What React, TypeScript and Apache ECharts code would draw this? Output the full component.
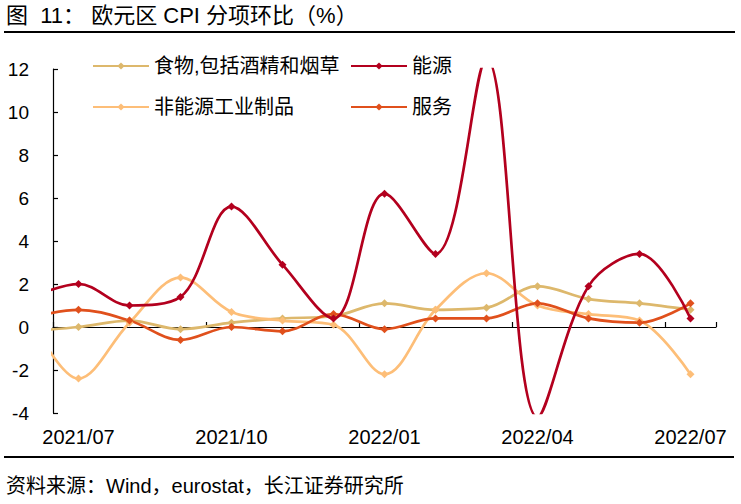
import React, { useEffect, useRef } from "react";
import * as echarts from "echarts";

// Index 0 (2021/06) lies just outside the visible range; the reference's lines enter from the left edge.
const months = [
  "2021/06", "2021/07", "2021/08", "2021/09", "2021/10", "2021/11", "2021/12",
  "2022/01", "2022/02", "2022/03", "2022/04", "2022/05", "2022/06", "2022/07",
];
const visibleMonths = months.slice(1);

const food = [-0.2, 0.0, 0.3, -0.1, 0.2, 0.4, 0.5, 1.1, 0.8, 0.9, 1.9, 1.3, 1.1, 0.8];
const energy = [1.3, 2.0, 1.0, 1.4, 5.6, 2.9, 0.4, 6.2, 3.4, 12.5, -4.2, 1.9, 3.4, 0.4];
const neig = [0.7, -2.4, 0.2, 2.3, 0.7, 0.3, 0.1, -2.2, 0.8, 2.5, 1.0, 0.6, 0.3, -2.2];
const services = [0.4, 0.8, 0.3, -0.6, 0.0, -0.2, 0.6, -0.1, 0.4, 0.4, 1.1, 0.4, 0.2, 1.1];

const seriesNames = ["食物,包括酒精和烟草", "能源", "非能源工业制品", "服务"];
const seriesColors = ["#DDB86C", "#B3001E", "#FDBE78", "#E0501C"];
const seriesValues = [food, energy, neig, services];

const yTicks = { min: -4, max: 12, interval: 2 };

const LATIN = "'Liberation Sans', Arial, 'Noto Sans CJK SC', sans-serif";

export default function App() {
  const ref = useRef<HTMLDivElement>(null);

  useEffect(() => {
    document.body.style.margin = "0";
    if (!ref.current) return;
    const chart = echarts.init(ref.current, undefined, { renderer: "svg" });

    const series = seriesNames.map((name, si) => ({
      name,
      type: "line",
      xAxisIndex: 0,
      yAxisIndex: 0,
      smooth: 0.35,
      clip: true,
      symbol: "diamond",
      symbolSize: 8,
      data: seriesValues[si].map((v, i) => [i, v]),
      lineStyle: { color: seriesColors[si], width: 2.7 },
      itemStyle: { color: seriesColors[si] },
      z: si === 1 ? 3 : 2,
    }));

    const legendCommon = {
      orient: "vertical",
      top: 56,
      padding: 0,
      itemWidth: 56,
      itemHeight: 9,
      itemGap: 21,
      textStyle: { fontSize: 20, color: "#000", lineHeight: 20, fontFamily: LATIN },
    };

    const option: any = {
      animation: false,
      textStyle: { fontFamily: LATIN },
      grid: { left: 53, right: 25, top: 69, bottom: 91, containLabel: false },
      legend: [
        { ...legendCommon, left: 92, data: [seriesNames[0], seriesNames[2]] },
        { ...legendCommon, left: 350, data: [seriesNames[1], seriesNames[3]] },
      ],
      xAxis: [
        {
          type: "value",
          min: 0.5,
          max: 13.5,
          show: false,
          position: "bottom",
          axisLine: { onZero: false },
        },
        {
          type: "category",
          data: visibleMonths,
          position: "bottom",
          boundaryGap: true,
          axisLine: { show: false, onZero: false },
          axisTick: { show: false },
          axisLabel: {
            interval: 2,
            fontSize: 20,
            color: "#000",
            margin: 14,
            fontFamily: LATIN,
          },
          splitLine: { show: false },
        },
        {
          type: "category",
          data: visibleMonths,
          position: "top",
          boundaryGap: true,
          axisLine: { show: true, onZero: true, lineStyle: { color: "#000", width: 1.2 } },
          axisTick: {
            show: true,
            interval: 2,
            inside: false,
            length: 5,
            lineStyle: { color: "#000", width: 1.2 },
          },
          axisLabel: { show: false },
          splitLine: { show: false },
        },
      ],
      yAxis: {
        type: "value",
        min: yTicks.min,
        max: yTicks.max,
        interval: yTicks.interval,
        axisLine: { show: true, onZero: false, lineStyle: { color: "#000", width: 1.2 } },
        axisTick: { show: true, inside: true, length: 5, lineStyle: { color: "#000", width: 1.2 } },
        axisLabel: { fontSize: 19, color: "#000", margin: 24, fontFamily: LATIN },
        splitLine: { show: false },
      },
      graphic: [
        {
          type: "text",
          left: 6,
          top: 4,
          style: {
            text: "图  11： 欧元区 CPI 分项环比（%）",
            fontSize: 22,
            fill: "#000",
            fontFamily: LATIN,
          },
        },
        {
          type: "line",
          shape: { x1: 4, y1: 32, x2: 735, y2: 32 },
          style: { stroke: "#000", lineWidth: 2 },
        },
        {
          type: "line",
          shape: { x1: 4, y1: 457, x2: 734, y2: 457 },
          style: { stroke: "#000", lineWidth: 2 },
        },
        {
          type: "text",
          left: 6,
          top: 476,
          style: {
            text: "资料来源：Wind，eurostat，长江证券研究所",
            fontSize: 20,
            fill: "#000",
            fontFamily: LATIN,
          },
        },
      ],
      series,
    };

    chart.setOption(option);
    return () => chart.dispose();
  }, []);

  return <div ref={ref} style={{ width: 741, height: 504 }} />;
}
